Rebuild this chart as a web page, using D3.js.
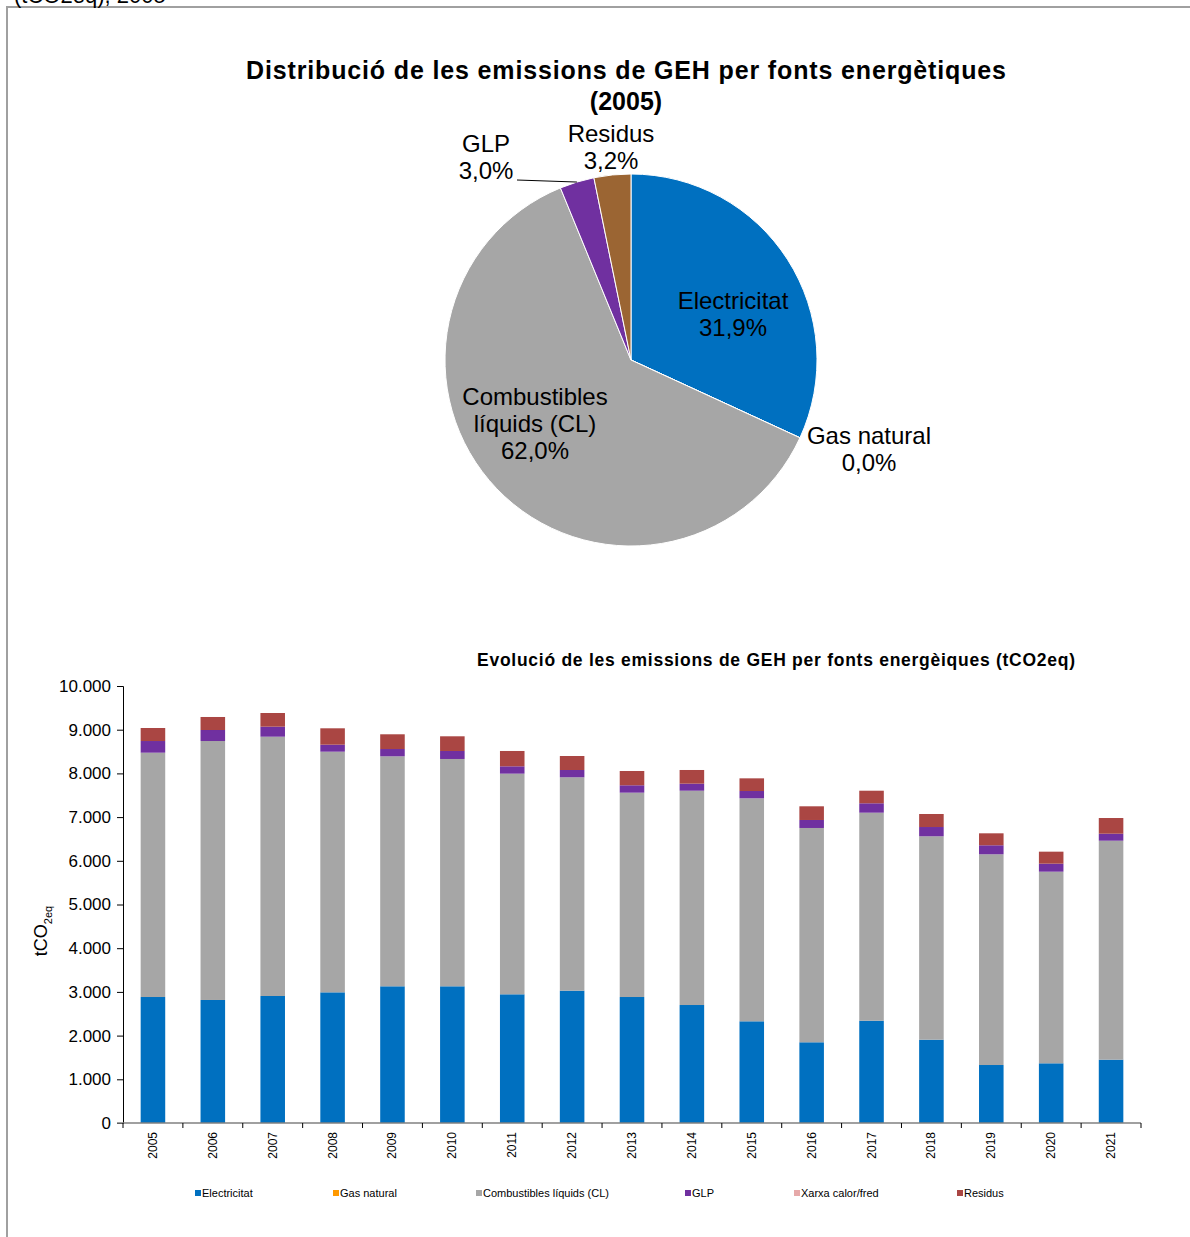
<!DOCTYPE html>
<html>
<head>
<meta charset="utf-8">
<script src="https://cdn.jsdelivr.net/npm/d3@7"></script>
<style>
  body { margin: 0; background: #fff; }
  svg { display: block; font-family: "Liberation Sans", Arial, sans-serif; }
</style>
</head>
<body>
<script>
// pie (2005)
const pieLabels = ['Electricitat', 'Gas natural', 'Combustibles líquids (CL)', 'GLP', 'Residus'];
const pieValues = [31.9, 0.0, 62.0, 3.0, 3.2];
const pieColors = ['#0070C0', '#F79646', '#A6A6A6', '#7030A0', '#9B6533'];

// stacked bars
const years = ['2005', '2006', '2007', '2008', '2009', '2010', '2011', '2012', '2013',
               '2014', '2015', '2016', '2017', '2018', '2019', '2020', '2021'];
const electricitat = [2883, 2815, 2906, 2990, 3128, 3128, 2945, 3028, 2883, 2700, 2327, 1847, 2341, 1906, 1327, 1366, 1449];
const gasNatural   = [0, 0, 0, 0, 0, 0, 0, 0, 0, 0, 0, 0, 0, 0, 0, 0, 0];
const combustibles = [5591, 5926, 5934, 5507, 5263, 5202, 5049, 4883, 4676, 4904, 5103, 4904, 4760, 4655, 4822, 4385, 5011];
const glp          = [267, 252, 229, 160, 167, 183, 168, 167, 169, 161, 167, 183, 215, 212, 206, 183, 160];
const xarxa        = [0, 0, 0, 0, 0, 0, 0, 0, 0, 0, 0, 0, 0, 0, 0, 0, 0];
const residus      = [298, 298, 313, 375, 337, 336, 351, 320, 327, 313, 290, 313, 288, 298, 274, 275, 359];
const seriesNames = ['Electricitat', 'Gas natural', 'Combustibles líquids (CL)', 'GLP', 'Xarxa calor/fred', 'Residus'];
const seriesColors = ['#0070C0', '#FF9900', '#A6A6A6', '#7030A0', '#E6A9A9', '#AA4643'];
const yTicks = [0, 1000, 2000, 3000, 4000, 5000, 6000, 7000, 8000, 9000, 10000];

const W = 1190, H = 1237;
const svg = d3.select('body').append('svg').attr('width', W).attr('height', H);

// outer frame (cut off at right/bottom)
svg.append('path').attr('d', 'M7,1237 V7 H1190').attr('fill', 'none')
  .attr('stroke', '#a0a0a0').attr('stroke-width', 2);
svg.append('text').attr('x', 14).attr('y', 3).attr('font-size', 22).attr('fill', '#000')
  .text('(tCO2eq), 2005');

// ---------- pie ----------
const cx = 631, cy = 360, R = 186;
svg.append('text').attr('x', 626).attr('y', 79).attr('text-anchor', 'middle')
  .attr('font-size', 25).attr('font-weight', 'bold')
  .attr('textLength', 760).attr('lengthAdjust', 'spacing')
  .text('Distribució de les emissions de GEH per fonts energètiques');
svg.append('text').attr('x', 626).attr('y', 110).attr('text-anchor', 'middle')
  .attr('font-size', 25).attr('font-weight', 'bold').text('(2005)');

const pieData = pieLabels.map((l, i) => ({ label: l, value: pieValues[i], color: pieColors[i] }));
const arcs = d3.pie().sort(null).value(d => d.value)(pieData);
const arc = d3.arc().innerRadius(0).outerRadius(R);
const pg = svg.append('g').attr('transform', `translate(${cx},${cy})`);
pg.selectAll('path').data(arcs).join('path')
  .attr('d', arc).attr('fill', d => d.data.color)
  .attr('stroke', '#fff').attr('stroke-width', 1);

const fmt = v => v.toFixed(1).replace('.', ',') + '%';
// label layout (text positions, relative to the pie centre)
const pieLabelPos = [
  { dx: 102, dy: -51, lines: ['Electricitat'] },
  { dx: 238, dy: 84, lines: ['Gas natural'] },
  { dx: -96, dy: 45, lines: ['Combustibles', 'líquids (CL)'] },
  { dx: -145, dy: -208, lines: ['GLP'] },
  { dx: -20, dy: -218, lines: ['Residus'] }
];
arcs.forEach((a, i) => {
  const p = pieLabelPos[i];
  const t = pg.append('text').attr('text-anchor', 'middle').attr('font-size', 24).attr('fill', '#000');
  const lines = p.lines.concat([fmt(a.data.value)]);
  lines.forEach((ln, k) => {
    t.append('tspan').attr('x', p.dx).attr('y', p.dy + k * 27).text(ln);
  });
});
// leader line for GLP
{
  const a = arcs[3];
  const mid = (a.startAngle + a.endAngle) / 2;
  const ex = Math.sin(mid) * R, ey = -Math.cos(mid) * R;
  pg.append('polyline')
    .attr('points', `${-114},${-180} ${ex},${ey}`)
    .attr('fill', 'none').attr('stroke', '#000').attr('stroke-width', 1);
}

// ---------- stacked bars ----------
const m = { left: 123, right: 1141, top: 686, bottom: 1123 };
svg.append('text').attr('x', 776).attr('y', 666).attr('text-anchor', 'middle')
  .attr('font-size', 17.5).attr('font-weight', 'bold')
  .attr('textLength', 598).attr('lengthAdjust', 'spacing')
  .text('Evolució de les emissions de GEH per fonts energèiques (tCO2eq)');

const x = d3.scaleBand().domain(years).range([m.left, m.right]).paddingInner(0.59).paddingOuter(0.295);
const y = d3.scaleLinear().domain([0, 10000]).range([m.bottom, m.top]);

const rows = years.map((yr, i) => ({
  year: yr, s0: electricitat[i], s1: gasNatural[i], s2: combustibles[i],
  s3: glp[i], s4: xarxa[i], s5: residus[i]
}));
const stack = d3.stack().keys(['s0', 's1', 's2', 's3', 's4', 's5'])(rows);

svg.append('g').selectAll('g').data(stack).join('g')
  .attr('fill', (d, i) => seriesColors[i])
  .selectAll('rect').data(d => d).join('rect')
  .attr('x', d => x(d.data.year)).attr('width', x.bandwidth())
  .attr('y', d => y(d[1])).attr('height', d => y(d[0]) - y(d[1]));

// y axis
const yAxis = svg.append('g').attr('transform', `translate(${m.left},0)`)
  .call(d3.axisLeft(y).tickValues(yTicks).tickSize(6).tickPadding(6)
    .tickFormat(v => d3.format(',')(v).replace(/,/g, '.')));
yAxis.selectAll('text').attr('font-size', 17).attr('font-family', '"Liberation Sans", Arial, sans-serif').attr('fill', '#000');
yAxis.selectAll('line').attr('stroke', '#000');
yAxis.select('.domain').attr('stroke', '#000');

// x axis
const xg = svg.append('g').attr('transform', `translate(0,${m.bottom})`);
xg.append('line').attr('x1', m.left - 6).attr('x2', m.right).attr('stroke', '#808080').attr('stroke-width', 1.5);
const bounds = years.map(yr => x(yr) - x.step() * x.paddingInner() / 2).concat([m.right]);
xg.selectAll('.tk').data(bounds).join('line')
  .attr('x1', d => d).attr('x2', d => d).attr('y1', 0).attr('y2', 5).attr('stroke', '#000');
xg.selectAll('.lbl').data(years).join('text')
  .attr('transform', d => `translate(${x(d) + x.bandwidth() / 2 + 4},9) rotate(-90)`)
  .attr('text-anchor', 'end').attr('font-size', 12).attr('fill', '#000').text(d => d);

// y title
svg.append('text').attr('transform', 'translate(47,931) rotate(-90)')
  .attr('text-anchor', 'middle').attr('font-size', 18)
  .html('tCO<tspan font-size="11" dy="5">2eq</tspan>');

// legend
const legendX = [195, 333, 476, 685, 794, 957];
const lg = svg.append('g').attr('transform', 'translate(0,1193)');
seriesNames.forEach((n, i) => {
  lg.append('rect').attr('x', legendX[i]).attr('y', -3).attr('width', 6).attr('height', 6).attr('fill', seriesColors[i]);
  lg.append('text').attr('x', legendX[i] + 7).attr('y', 4).attr('font-size', 11).attr('fill', '#000').text(n);
});
</script>
</body>
</html>
